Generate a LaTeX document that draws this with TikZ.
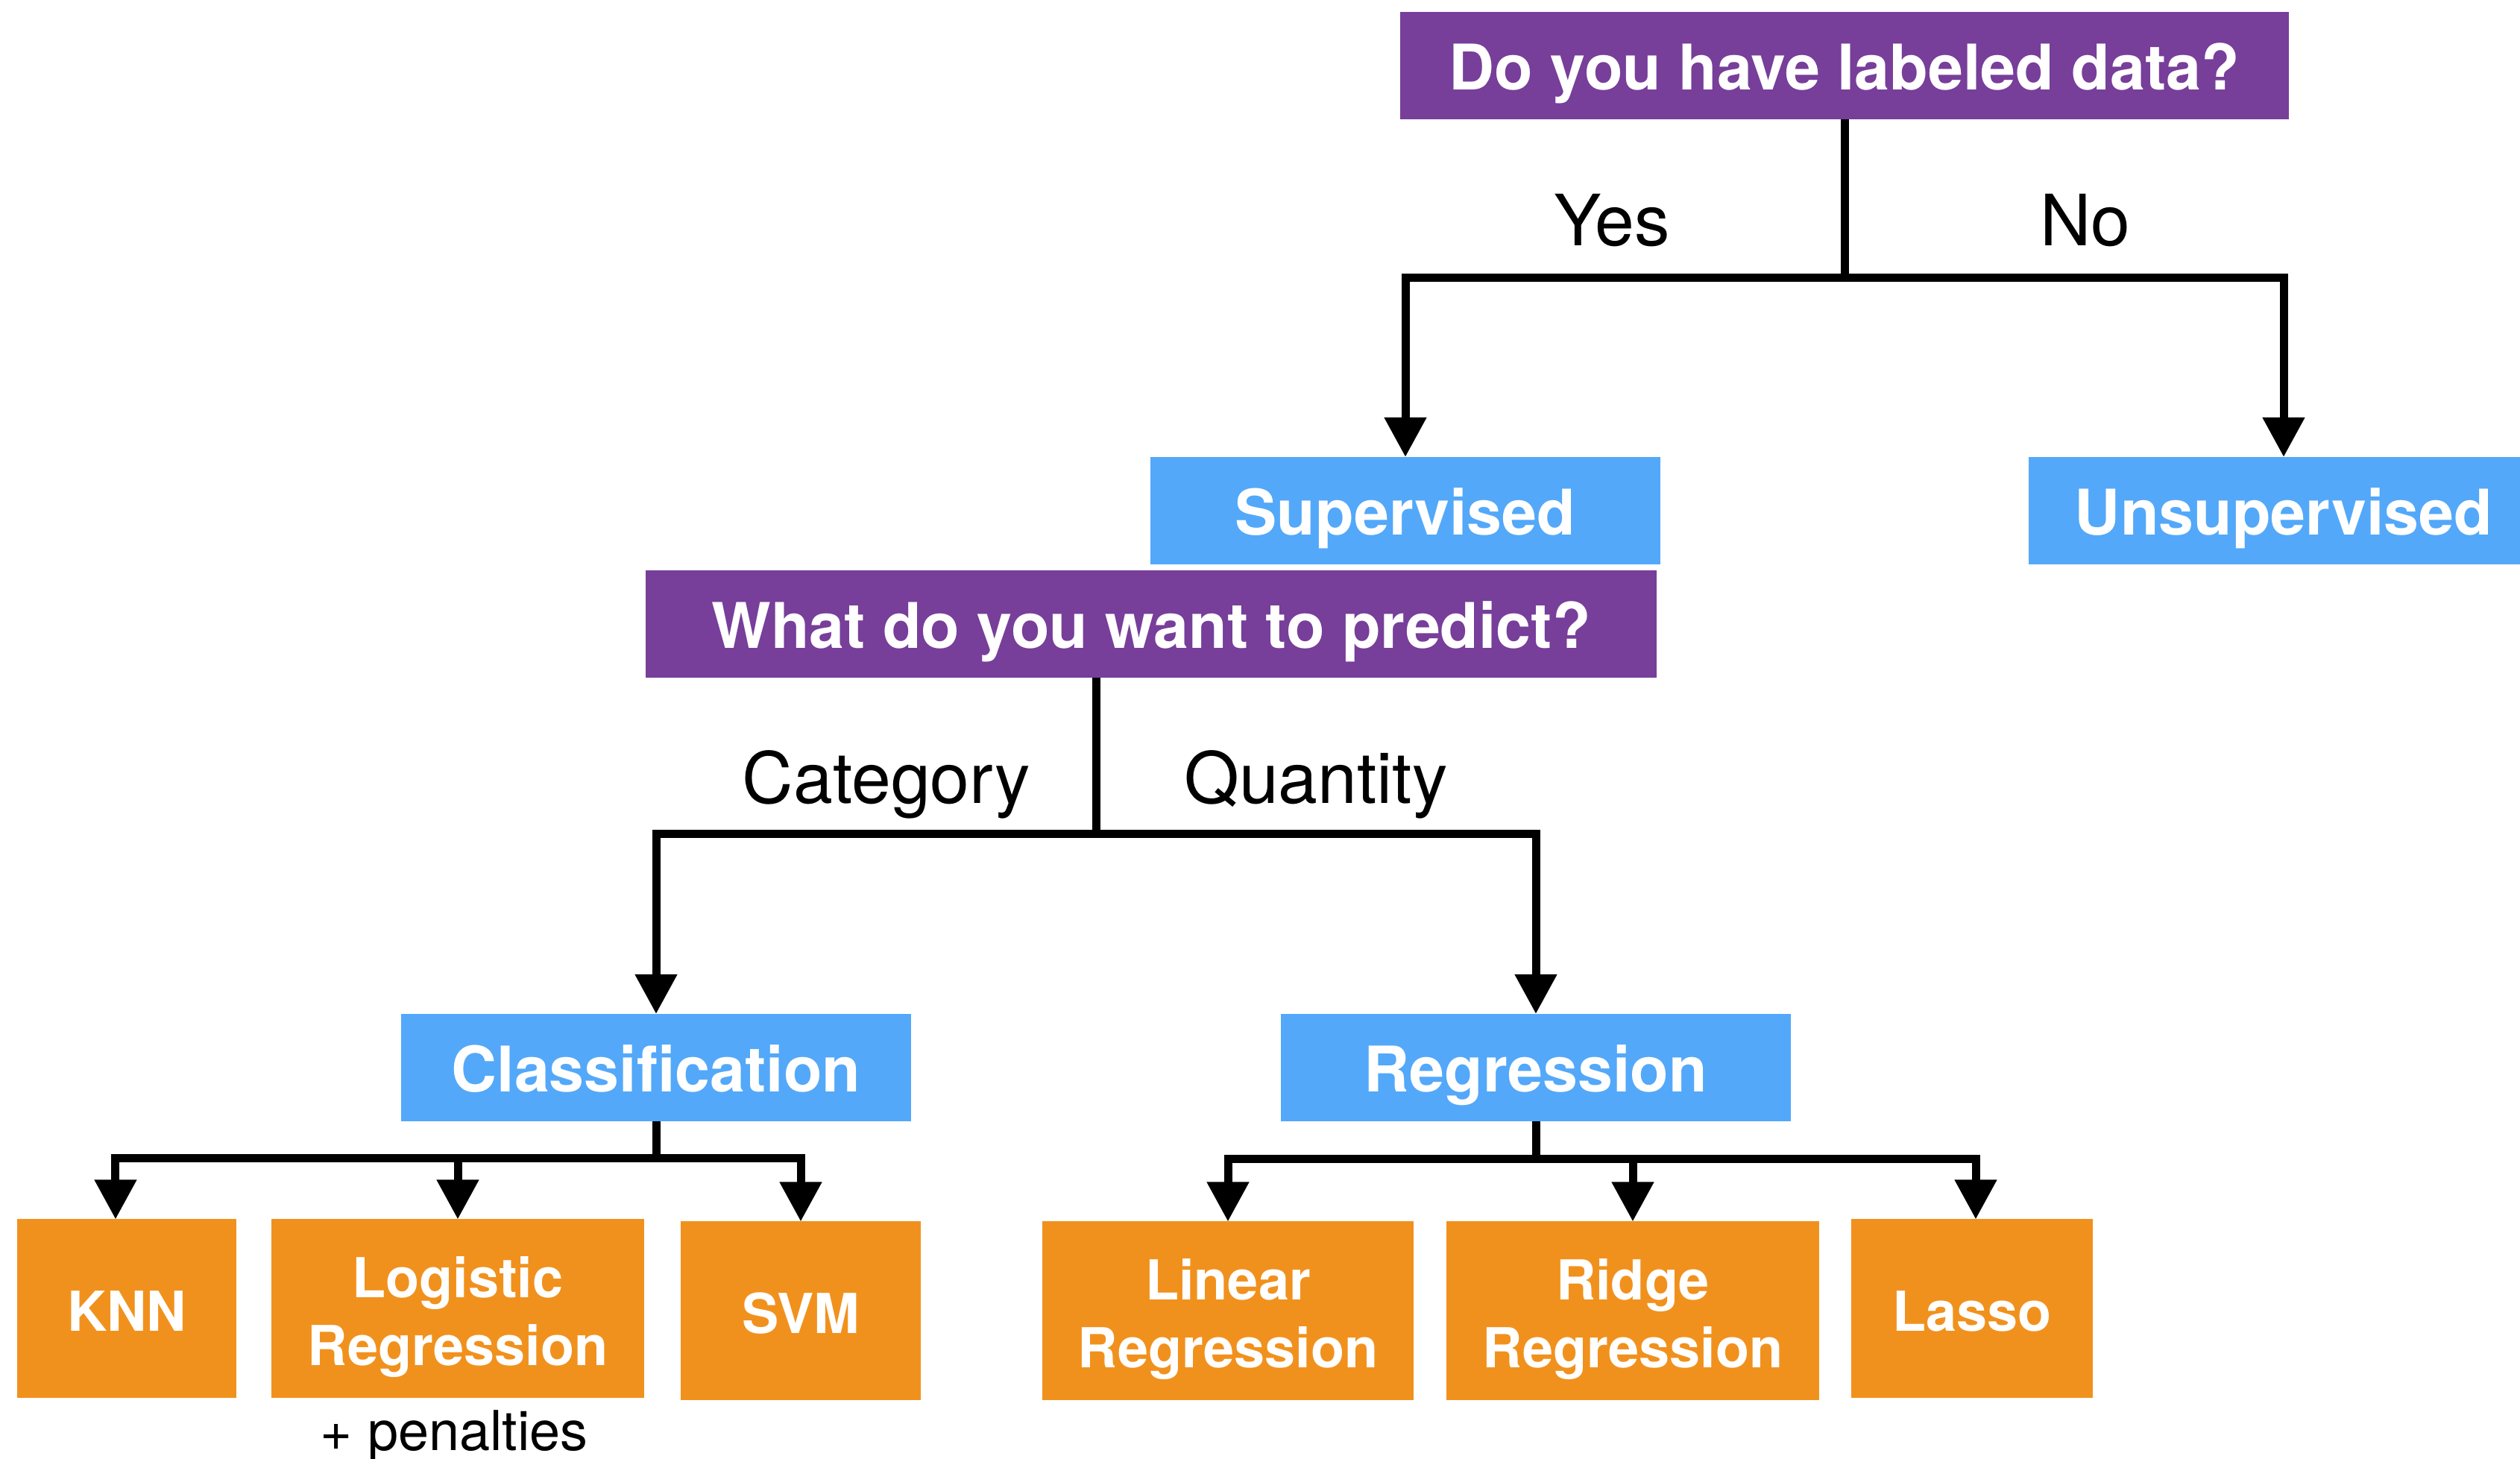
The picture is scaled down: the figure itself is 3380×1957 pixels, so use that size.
\documentclass[tikz,border=0pt]{standalone}
\usepackage{fontspec}
\setmainfont{TeX Gyre Heros}
\usetikzlibrary{arrows.meta}
\definecolor{askpurple}{HTML}{773E9A}
\definecolor{typeblue}{HTML}{53A8F9}
\definecolor{algoorange}{HTML}{F1911D}
\begin{document}
\begin{tikzpicture}[x=0.01cm,y=-0.01cm,
  box/.style={inner sep=0pt,outer sep=0pt,text=white,align=center},
  question/.style={box,fill=askpurple,minimum height=1.44cm,font=\bfseries\fontsize{24}{28}\selectfont,text height=18.4pt,text depth=0pt},
  kind/.style={box,fill=typeblue,minimum width=6.83cm,minimum height=1.44cm,font=\bfseries\fontsize{24}{28}\selectfont,text height=18.4pt,text depth=0pt},
  algo/.style={box,fill=algoorange,minimum height=2.39cm,font=\bfseries\fontsize{21}{25.8}\selectfont,text height=17.6pt,text depth=0pt},
  algotwo/.style={algo,text height=43.4pt},
  answer/.style={anchor=base,inner sep=0pt,font=\fontsize{27}{32}\selectfont},
  link/.style={line width=1.1mm},
  arr/.style={link,-{Triangle[width=5.4mm,length=5.3mm]}}]
\useasboundingbox (0,0) rectangle (3380,1957);
\node[question,minimum width=11.92cm] (labeled) at (2474,88) {Do you have labeled data?};
\node[kind] (sup) at (1885,685) {Supervised};
\node[kind] (unsup) at (3063,685) {Unsupervised};
\node[question,minimum width=13.56cm] (predict) at (1544,837) {What do you want to predict?};
\node[kind] (cls) at (880,1432) {Classification};
\node[kind] (reg) at (2060,1432) {Regression};
\node[algo,minimum width=2.93cm] (knn) at (170,1755) {KNN};
\node[algotwo,minimum width=4.99cm] (logit) at (614,1755) {Logistic\\Regression};
\node[algo,minimum width=3.22cm] (svm) at (1074,1758) {SVM};
\node[algotwo,minimum width=4.98cm] (linear) at (1647,1758) {Linear\\Regression};
\node[algotwo,minimum width=4.99cm] (ridge) at (2190,1758) {Ridge\\Regression};
\node[algo,minimum width=3.23cm] (lasso) at (2645,1755) {Lasso};
\coordinate (j1) at (2474,372);
\coordinate (j2) at (1470,1118);
\coordinate (j3) at (880,1553);
\coordinate (j4) at (2060,1554);
\draw[link] (labeled) -- (j1);
\draw[arr] (j1) -| (sup);
\draw[arr] (j1) -| (unsup);
\draw[link] (predict.south -| j2) -- (j2);
\draw[arr] (j2) -| (cls);
\draw[arr] (j2) -| (reg);
\draw[link] (cls) -- (j3);
\draw[arr] (j3) -| ([xshift=-0.15cm]knn.north);
\draw[arr] (j3) -| (logit);
\draw[arr] (j3) -| (svm);
\draw[link] (reg) -- (j4);
\draw[arr] (j4) -| (linear);
\draw[arr] (j4) -| (ridge);
\draw[arr] (j4) -| ([xshift=0.05cm]lasso.north);
\node[answer] (yes) at (2162,329) {Yes};
\node[answer] (no) at (2797,329) {No};
\node[answer] (category) at (1189,1077) {Category};
\node[answer] (quantity) at (1765,1077) {Quantity};
\node[anchor=base,inner sep=0pt,font=\fontsize{21}{25}\selectfont] (penalty) at (609,1945) {+ penalties};
\end{tikzpicture}
\end{document}
